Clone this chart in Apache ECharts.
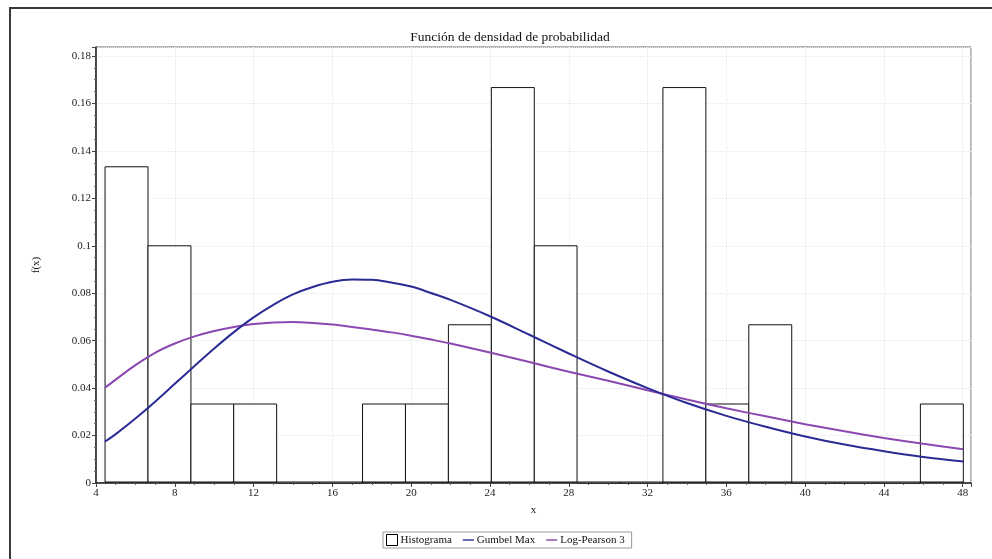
<!DOCTYPE html>
<html>
<head>
<meta charset="utf-8">
<script src="https://cdn.jsdelivr.net/npm/echarts@6/dist/echarts.min.js"></script>
<style>html,body{margin:0;padding:0;background:#fff}#c{width:992px;height:559px}</style>
</head>
<body>
<div id="c"></div>
<script>
// Histogram bins (left edge, right edge) and relative frequency
const binStarts = [4.46, 6.64, 8.82, 10.99, 13.17, 15.35, 17.53, 19.71, 21.89, 24.07, 26.25, 28.42, 30.60, 32.78, 34.96, 37.14, 39.32, 41.49, 43.67, 45.85];
const binEnds   = [6.64, 8.82, 10.99, 13.17, 15.35, 17.53, 19.71, 21.89, 24.07, 26.25, 28.42, 30.60, 32.78, 34.96, 37.14, 39.32, 41.49, 43.67, 45.85, 48.03];
const binHeights = [0.1333, 0.1, 0.0333, 0.0333, 0, 0, 0.0333, 0.0333, 0.0667, 0.1667, 0.1, 0, 0, 0.1667, 0.0333, 0.0667, 0, 0, 0, 0.0333];

// Gumbel Max curve
const gumbelX = [4.46, 5, 6, 7, 8, 9, 10, 11, 12, 13, 14, 15, 16, 17, 18, 19, 20, 21, 22, 24, 26, 28, 30, 32, 34, 36, 38, 40, 42, 44, 46, 48.03];
const gumbelY = [0.0175, 0.0206, 0.0272, 0.0343, 0.0418, 0.0493, 0.0567, 0.0636, 0.0698, 0.0751, 0.0795, 0.0826, 0.0848, 0.0858, 0.0857, 0.0845, 0.0828, 0.0801, 0.0772, 0.0703, 0.0625, 0.0546, 0.0470, 0.0400, 0.0337, 0.0283, 0.0237, 0.0196, 0.0162, 0.0134, 0.0110, 0.0091];

// Log-Pearson 3 curve
const lp3X = [4.46, 5, 6, 7, 8, 9, 10, 11, 12, 13, 14, 15, 16, 17, 18, 19, 20, 21, 22, 24, 26, 28, 30, 32, 34, 36, 38, 40, 42, 44, 46, 48.03];
const lp3Y = [0.0402, 0.0436, 0.0497, 0.0549, 0.0588, 0.0618, 0.0641, 0.0658, 0.0670, 0.0677, 0.0679, 0.0675, 0.0668, 0.0658, 0.0647, 0.0635, 0.0621, 0.0605, 0.0588, 0.0550, 0.0510, 0.0469, 0.0431, 0.0391, 0.0352, 0.0315, 0.0281, 0.0248, 0.0218, 0.0190, 0.0165, 0.0142];

const xTickStep = 4;
const yTickStep = 0.02;

const histData = binStarts.map((s, i) => [s, binEnds[i], binHeights[i]]);
const gumbelData = gumbelX.map((x, i) => [x, gumbelY[i]]);
const lp3Data = lp3X.map((x, i) => [x, lp3Y[i]]);

const FONT = '"Liberation Serif", "DejaVu Serif", serif';
const chart = echarts.init(document.getElementById('c'));

function isMultiple(v, step) {
  const r = v / step;
  return Math.abs(r - Math.round(r)) < 1e-6;
}
const LINE_ICON = 'path://M0,0L14,0L14,1.8L0,1.8Z';

chart.setOption({
  animation: false,
  backgroundColor: '#fff',
  graphic: [{
    type: 'rect',
    shape: { x: 10, y: 8, width: 1100, height: 700 },
    style: { fill: 'none', stroke: '#3a3a3a', lineWidth: 2 },
    silent: true
  }],
  title: {
    text: 'Función de densidad de probabilidad',
    left: 505, top: 25, textAlign: 'center',
    textStyle: { fontFamily: FONT, fontSize: 13.5, fontWeight: 'normal', color: '#111' }
  },
  legend: {
    top: 532,
    left: 383,
    data: [
      { name: 'Histograma', icon: 'rect', itemStyle: { color: '#fff', borderColor: '#000', borderWidth: 1 } },
      { name: 'Gumbel Max', icon: LINE_ICON },
      { name: 'Log-Pearson 3', icon: LINE_ICON }
    ],
    itemWidth: 11, itemHeight: 11, itemGap: 11,
    padding: [2, 7, 2, 3],
    borderColor: '#9a9a9a', borderWidth: 1,
    textStyle: { fontFamily: FONT, fontSize: 11, color: '#111', padding: [0, 0, 0, -2] }
  },
  grid: {
    left: 96, top: 47, right: 21, bottom: 76,
    show: true, borderColor: '#666', borderWidth: 1
  },
  xAxis: {
    type: 'value', min: 4, max: 48.42, interval: xTickStep,
    name: 'x', nameLocation: 'middle', nameGap: 22,
    nameTextStyle: { fontFamily: FONT, fontSize: 11, color: '#111' },
    axisLine: { show: true, onZero: false, lineStyle: { color: '#222', width: 1.5 } },
    axisTick: { show: true, length: 4, lineStyle: { color: '#444' } },
    minorTick: { show: true, splitNumber: 4, length: 2, lineStyle: { color: '#666' } },
    axisLabel: {
      fontFamily: FONT, fontSize: 11, color: '#222', margin: 5,
      formatter: v => isMultiple(v, xTickStep) ? String(Math.round(v)) : ''
    },
    splitLine: { show: true, lineStyle: { color: '#e6e6e6', type: 'dotted' } }
  },
  yAxis: {
    type: 'value', min: 0, max: 0.1838, interval: yTickStep,
    name: 'f(x)', nameLocation: 'middle', nameGap: 54, nameRotate: 90,
    nameTextStyle: { fontFamily: FONT, fontSize: 11, color: '#111' },
    axisLine: { show: true, onZero: false, lineStyle: { color: '#222', width: 1.5 } },
    axisTick: { show: true, length: 4, lineStyle: { color: '#444' } },
    minorTick: { show: true, splitNumber: 4, length: 2, lineStyle: { color: '#666' } },
    axisLabel: {
      fontFamily: FONT, fontSize: 11, color: '#222', margin: 5,
      formatter: v => isMultiple(v, yTickStep) ? String(parseFloat(v.toFixed(2))) : ''
    },
    splitLine: { show: true, lineStyle: { color: '#e6e6e6', type: 'dotted' } }
  },
  series: [
    {
      name: 'Histograma',
      type: 'custom',
      data: histData,
      encode: { x: [0, 1], y: 2 },
      z: 2,
      itemStyle: { color: '#fff', borderColor: '#000' },
      renderItem: function (params, api) {
        const p0 = api.coord([api.value(0), api.value(2)]);
        const p1 = api.coord([api.value(1), 0]);
        return {
          type: 'rect',
          shape: { x: p0[0], y: p0[1], width: p1[0] - p0[0], height: p1[1] - p0[1] - 1 },
          style: { fill: '#fff', stroke: '#111', lineWidth: 1 }
        };
      }
    },
    {
      name: 'Gumbel Max', type: 'line', data: gumbelData, smooth: 0.35,
      symbol: 'none', z: 4,
      lineStyle: { color: '#2b2b96', width: 2 }, itemStyle: { color: '#2b2b96' }
    },
    {
      name: 'Log-Pearson 3', type: 'line', data: lp3Data, smooth: 0.35,
      symbol: 'none', z: 3,
      lineStyle: { color: '#8b48b0', width: 2 }, itemStyle: { color: '#8b48b0' }
    }
  ]
});
</script>
</body>
</html>
